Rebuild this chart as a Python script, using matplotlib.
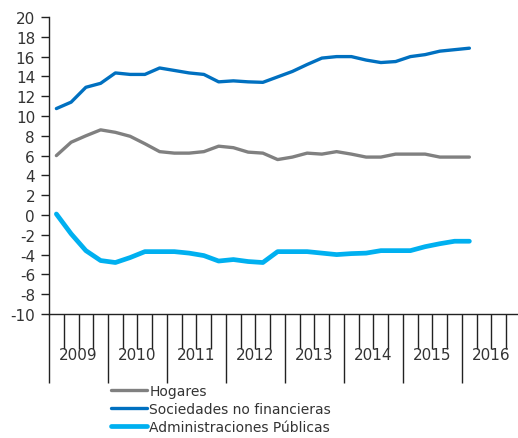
import numpy as np
import matplotlib
matplotlib.use("Agg")
import matplotlib.pyplot as plt

plt.rcParams['font.family'] = ['DejaVu Sans']
plt.rcParams['axes.unicode_minus'] = False

# Quarterly series, 2009 Q1 - 2016 Q1 (% of GDP)
hogares = [6.0, 7.35, 8.0, 8.6, 8.35, 7.95, 7.2, 6.4, 6.25, 6.25, 6.4, 6.95, 6.8, 6.35,
           6.25, 5.6, 5.85, 6.25, 6.15, 6.4, 6.15, 5.85, 5.85, 6.15, 6.15, 6.15, 5.85,
           5.85, 5.85]
sociedades = [10.75, 11.4, 12.9, 13.3, 14.35, 14.2, 14.2, 14.85, 14.6, 14.35, 14.2, 13.45,
              13.55, 13.45, 13.4, 13.95, 14.5, 15.2, 15.85, 16.0, 16.0, 15.65, 15.4, 15.5,
              16.0, 16.2, 16.55, 16.7, 16.85]
admin_publicas = [0.1, -1.9, -3.6, -4.6, -4.8, -4.3, -3.7, -3.7, -3.7, -3.85, -4.1, -4.65,
                  -4.5, -4.7, -4.8, -3.7, -3.7, -3.7, -3.85, -4.0, -3.9, -3.85, -3.6, -3.6,
                  -3.6, -3.2, -2.9, -2.65, -2.65]
years = ["2009", "2010", "2011", "2012", "2013", "2014", "2015", "2016"]
series_labels = ["Hogares", "Sociedades no financieras", "Administraciones Públicas"]

text_color = "#333333"
axis_color = "#222222"

fig = plt.figure(figsize=(5.18, 4.39), dpi=100)
ax = fig.add_axes([49 / 518, 124 / 439, 472 / 518, 297 / 439])

x = np.arange(len(hogares)) + 0.5
ax.plot(x, hogares, color="#808080", lw=2.4, solid_capstyle="round", label=series_labels[0])
ax.plot(x, sociedades, color="#0070c0", lw=2.4, solid_capstyle="round", label=series_labels[1])
ax.plot(x, admin_publicas, color="#00b0f0", lw=3.4, solid_capstyle="round", label=series_labels[2])

ax.set_ylim(-10, 20)
ax.set_yticks(np.arange(-10, 21, 2))
ax.set_xlim(0, 4 * len(years))

# Year boundaries as long ticks, quarters as short ticks
ax.set_xticks(np.arange(0, 4 * len(years) + 1, 4))
ax.set_xticks([q for q in range(4 * len(years)) if q % 4], minor=True)
ax.set_xticklabels([])
ax.tick_params(axis="x", which="major", direction="out", length=50, width=1.0, color=axis_color)
ax.tick_params(axis="x", which="minor", direction="out", length=25, width=1.0, color=axis_color)
ax.tick_params(axis="y", direction="out", length=6, width=1.0, color=axis_color,
               labelsize=11, labelcolor=text_color, pad=4)

for i, yr in enumerate(years):
    ax.text(4 * i + 2, -0.135, yr, transform=ax.get_xaxis_transform(), ha="center",
            va="center", fontsize=11, color=text_color)

for side in ("top", "right"):
    ax.spines[side].set_visible(False)
for side in ("left", "bottom"):
    ax.spines[side].set_color(axis_color)
    ax.spines[side].set_linewidth(1.0)

leg = fig.legend(loc="upper left", bbox_to_anchor=(111 / 518, 1 - 385 / 439), frameon=False,
                 fontsize=10, handlelength=2.6, handletextpad=0.15, labelspacing=0.3,
                 borderpad=0, borderaxespad=0)
for t in leg.get_texts():
    t.set_color(text_color)

fig.savefig("out.png", dpi=100)
